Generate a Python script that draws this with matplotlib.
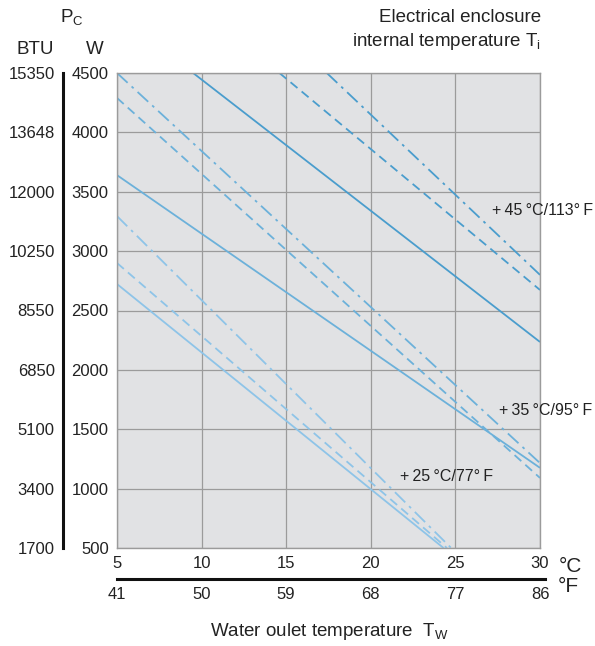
import numpy as np
import matplotlib.pyplot as plt

plt.rcParams['font.family'] = ['Liberation Sans', 'DejaVu Sans']

# axis ticks
c_ticks = [5, 10, 15, 20, 25, 30]
f_labels = ['41', '50', '59', '68', '77', '86']
w_ticks = [500, 1000, 1500, 2000, 2500, 3000, 3500, 4000, 4500]
btu_labels = ['1700', '3400', '5100', '6850', '8550', '10250', '12000', '13648', '15350']

# curves: (x start, x end), (W start, W end)
t45_solid_x = [9.5, 30];   t45_solid_y = [4500, 2235]
t45_dash_x = [14.6, 30];   t45_dash_y = [4500, 2673]
t45_dot_x = [17.4, 30];    t45_dot_y = [4500, 2800]

t35_solid_x = [5, 30];     t35_solid_y = [3640, 1175]
t35_dash_x = [5, 30];      t35_dash_y = [4290, 1090]
t35_dot_x = [5, 30];       t35_dot_y = [4500, 1215]

t25_solid_x = [5, 24.3];   t25_solid_y = [2723, 500]
t25_dash_x = [5, 24.5];    t25_dash_y = [2900, 500]
t25_dot_x = [5, 24.75];    t25_dot_y = [3295, 500]

col45 = '#4a9dcd'
col35 = '#6cb1da'
col25 = '#8ec4e8'
txt = '#222222'

fig = plt.figure(figsize=(5.95, 6.46), dpi=100)
ax = fig.add_axes([117/595, 1-548/646, 423/595, 475/646])
ax.set_facecolor('#e1e2e4')

dash = (0, (5, 3))
dashdot = (0, (8, 3, 1.5, 3))
lw = 1.3
for xs, ys, c in [(t45_solid_x, t45_solid_y, col45), (t35_solid_x, t35_solid_y, col35),
                  (t25_solid_x, t25_solid_y, col25)]:
    ax.plot(xs, ys, color=c, lw=lw, solid_capstyle='butt')
for xs, ys, c in [(t45_dash_x, t45_dash_y, col45), (t35_dash_x, t35_dash_y, col35),
                  (t25_dash_x, t25_dash_y, col25)]:
    ax.plot(xs, ys, color=c, lw=lw, linestyle=dash)
for xs, ys, c in [(t45_dot_x, t45_dot_y, col45), (t35_dot_x, t35_dot_y, col35),
                  (t25_dot_x, t25_dot_y, col25)]:
    ax.plot(xs, ys, color=c, lw=lw, linestyle=dashdot)

ax.set_xlim(5, 30)
ax.set_ylim(500, 4500)
ax.set_xticks(c_ticks)
ax.set_yticks(w_ticks)
ax.grid(True, color='#9b9b9b', lw=0.9)
ax.set_axisbelow(True)
for s in ax.spines.values():
    s.set_color('#9b9b9b')
    s.set_linewidth(1.0)
ax.tick_params(length=0, labelsize=12, colors=txt, pad=6)
ax.tick_params(axis='x', pad=6)

# BTU axis
ay = ax.secondary_yaxis(-54/423)
ay.set_yticks(w_ticks, labels=btu_labels)
ay.spines['left'].set_linewidth(2.2)
ay.spines['left'].set_color('#111111')
ay.tick_params(length=0, labelsize=12, colors=txt, pad=6)

# Fahrenheit axis
axf = ax.secondary_xaxis(-31/475)
axf.set_xticks(c_ticks, labels=f_labels)
axf.spines['bottom'].set_linewidth(2.2)
axf.spines['bottom'].set_color('#111111')
axf.spines['bottom'].set_bounds(5, 30.3)
axf.tick_params(length=0, labelsize=12, colors=txt, pad=6)

# curve labels
lab_kw = dict(fontsize=11.5, color=txt, va='center', clip_on=False)
ax.text(27.15, 3340, '+\u200945\u2009°C/113°\u2009F', **lab_kw)
ax.text(27.6, 1662, '+\u200935\u2009°C/95°\u2009F', **lab_kw)
ax.text(21.7, 1106, '+\u200925\u2009°C/77°\u2009F', **lab_kw)

# headings
fs = 13.5
fig.text(72/595, 1-18/646, r'P$_\mathregular{C}$', fontsize=fs, color=txt, ha='center', va='center')
fig.text(35/595, 1-50/646, 'BTU', fontsize=fs, color=txt, ha='center', va='center')
fig.text(95/595, 1-50/646, 'W', fontsize=fs, color=txt, ha='center', va='center')
fig.text(541/595, 1-18/646, 'Electrical enclosure', fontsize=fs, color=txt, ha='right', va='center')
fig.text(541/595, 1-42/646, r'internal temperature T$_\mathregular{i}$', fontsize=fs, color=txt,
         ha='right', va='center')
fig.text(570/595, 1-566/646, '°C', fontsize=15, color=txt, ha='center', va='center')
fig.text(568/595, 1-586/646, '°F', fontsize=15, color=txt, ha='center', va='center')
fig.text(329/595, 1-631/646, r'Water oulet temperature  T$_\mathregular{W}$', fontsize=fs, color=txt,
         ha='center', va='center')

fig.savefig('out.png', dpi=100)
